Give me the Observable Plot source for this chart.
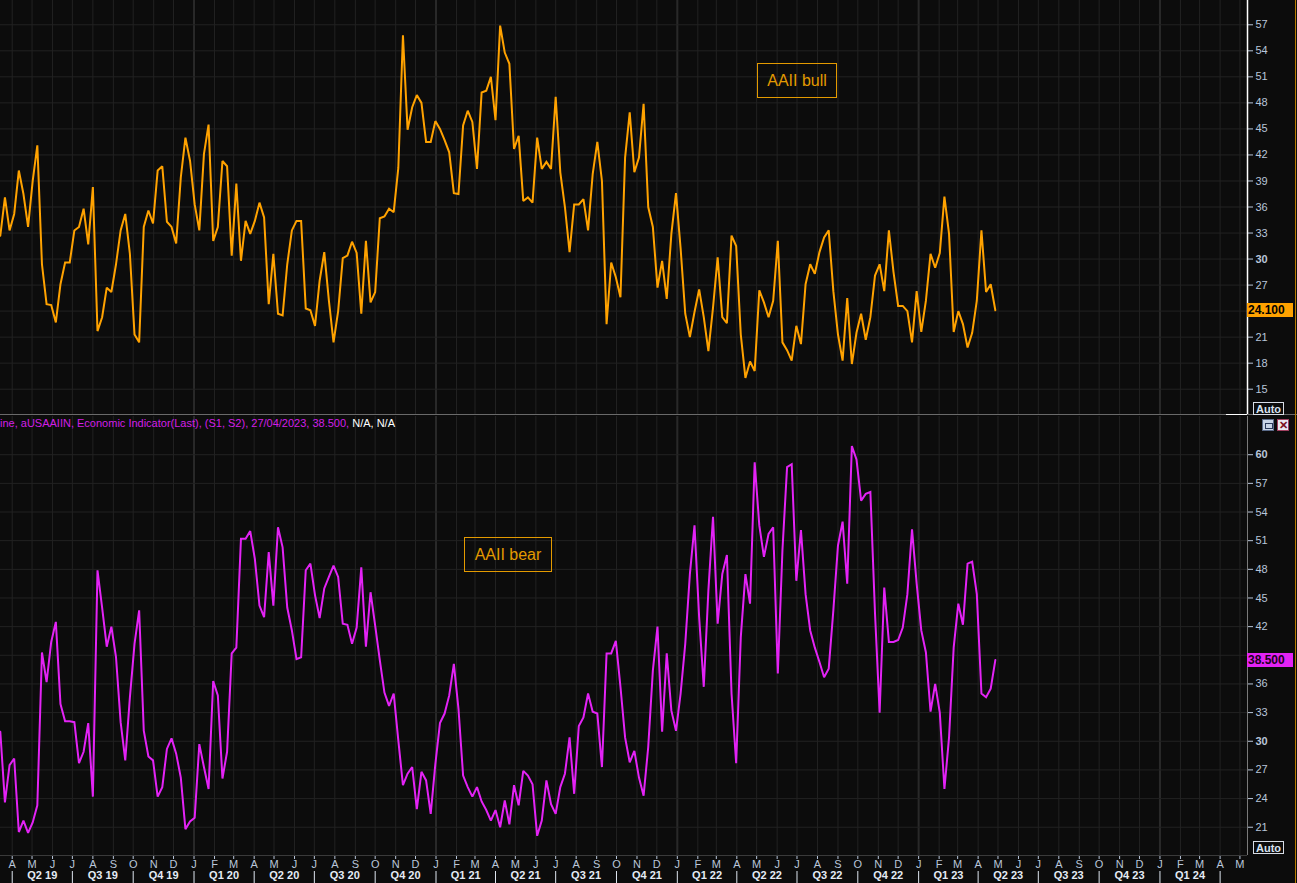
<!DOCTYPE html>
<html><head><meta charset="utf-8">
<script src="https://cdn.jsdelivr.net/npm/d3@7"></script>
<script src="https://cdn.jsdelivr.net/npm/@observablehq/plot@0.6"></script>
<style>
html,body{margin:0;padding:0;background:#0c0c0c;overflow:hidden}
#root{position:relative;width:1297px;height:883px;background:#0c0c0c;font-family:"Liberation Sans",Arial,sans-serif;overflow:hidden}
.abs{position:absolute}
.box{position:absolute;border:1px solid #e39a00;color:#e39a00;font-size:16px;display:flex;align-items:center;justify-content:center;box-sizing:border-box}
.badge{position:absolute;left:1247px;width:46px;height:14px;font:bold 12px "Liberation Sans",Arial,sans-serif;color:#000;line-height:14px;padding-left:1px;box-sizing:border-box}
.auto{position:absolute;left:1253px;width:31px;height:13px;border:1px solid #d8dde6;color:#d8e2f0;font:bold 11px "Liberation Sans",Arial,sans-serif;line-height:12px;text-align:center;box-sizing:border-box}
</style></head><body><div id="root"></div>
<script>
// ---- data: AAII weekly sentiment readings (Thursdays), first reading 14/03/2019, last 27/04/2023
const firstReading = "2019-03-14";
const bull = [32.7,37.1,33.3,35.2,40.2,37.5,33.7,39.0,43.1,29.4,24.8,24.7,22.7,27.1,29.6,29.6,33.3,33.7,35.8,31.7,
38.3,21.7,23.3,26.7,26.2,29.4,33.3,35.2,30.6,21.3,20.4,33.7,35.6,34.1,40.2,40.7,34.3,33.7,31.8,39.4,
44.0,41.3,36.3,33.3,42.1,45.5,32.1,33.7,41.3,40.7,30.4,38.7,29.8,34.4,32.9,34.4,36.5,34.8,24.8,30.6,
23.7,23.5,29.4,33.3,34.4,34.4,24.3,24.1,22.3,27.5,30.8,25.2,20.4,24.0,30.1,30.4,32.0,30.7,23.7,32.1,
25.0,26.2,34.7,34.9,35.8,35.4,40.5,55.8,44.9,47.5,48.9,48.0,43.5,43.5,45.9,45.0,43.7,42.3,37.6,37.5,
45.4,47.1,45.8,40.4,49.2,49.4,51.0,46.0,56.9,53.8,52.5,42.7,44.2,36.7,37.1,36.5,44.0,40.4,41.2,40.4,
48.7,40.0,36.0,30.8,36.3,36.3,36.9,33.3,39.8,43.5,39.0,22.5,29.6,27.9,25.6,41.7,46.9,40.0,41.7,47.9,
36.0,33.7,26.7,29.8,25.4,32.9,37.6,31.2,23.7,21.0,23.9,26.5,23.3,19.4,24.4,30.2,23.3,22.6,32.7,31.5,
21.3,16.3,18.2,17.1,26.4,25.0,23.3,25.2,32.1,20.4,19.5,18.3,22.3,20.2,27.1,29.4,28.3,30.8,32.5,33.3,
26.3,21.3,18.3,25.5,17.9,21.5,23.7,20.7,23.3,28.1,29.4,26.3,33.3,28.5,24.6,24.6,24.0,20.4,26.3,21.6,
25.2,30.6,29.0,30.7,37.2,32.9,21.6,24.0,22.5,19.8,21.5,25.2,33.3,26.2,27.1,24.1];
const bear = [31.0,23.6,27.5,28.2,20.5,21.7,20.4,21.5,23.3,39.3,36.2,40.4,42.5,33.9,32.1,32.1,32.0,27.7,28.9,31.9,
24.2,47.9,44.0,39.9,42.0,38.8,32.0,28.0,34.6,40.2,43.7,31.1,28.4,28.0,24.2,25.2,29.2,30.3,28.7,26.2,
20.8,21.6,22.0,29.7,27.3,25.0,36.3,34.8,26.1,28.9,39.2,39.8,51.2,51.2,52.0,49.1,44.2,43.0,49.8,44.2,
52.4,50.3,44.0,41.6,38.6,38.8,47.9,48.6,45.3,42.9,46.0,47.2,48.4,47.2,42.3,42.2,40.2,41.9,48.2,39.9,
45.6,42.1,38.5,35.1,33.7,35.0,30.1,25.4,26.6,27.3,22.9,26.8,25.9,22.4,27.6,31.9,32.9,34.8,38.1,33.4,
26.4,25.2,24.2,25.2,23.7,22.8,21.7,22.8,21.0,23.8,21.3,25.4,23.3,26.9,26.4,25.5,20.1,21.7,25.9,23.4,
22.4,25.2,26.6,30.4,24.5,31.6,32.5,35.0,33.1,32.9,27.3,39.2,39.2,40.5,35.7,30.4,27.8,29.0,26.2,24.3,
29.4,37.4,42.0,31.0,39.2,33.2,31.1,35.0,40.2,47.5,52.6,43.0,35.7,45.8,53.5,42.3,47.5,49.5,35.0,27.7,
40.9,47.5,44.4,59.2,52.6,49.3,51.7,52.4,37.1,50.0,58.7,59.0,46.8,52.1,45.4,41.6,39.8,38.3,36.7,37.6,
43.7,50.5,53.0,46.5,60.9,59.5,55.2,55.9,56.1,43.4,33.0,46.1,40.4,40.4,40.6,41.9,45.4,52.2,46.5,41.6,
39.3,33.1,36.0,33.0,25.0,30.4,39.8,44.4,42.2,48.6,48.8,45.4,35.0,34.6,35.5,38.5];
const bullTicks = [15,18,21,24,27,30,33,36,39,42,45,48,51,54,57];
const bearTicks = [21,24,27,30,33,36,39,42,45,48,51,54,57,60];
const monthLetters = ["J","F","M","A","M","J","J","A","S","O","N","D"];
const bullLabel = "AAII bull";
const bearLabel = "AAII bear";
const legendText = "ine, aUSAAIIN, Economic Indicator(Last), (S1, S2), 27/04/2023, 38.500, ";
const legendTail = "N/A, N/A";

// ---- table
const start = new Date(firstReading + "T00:00:00Z");
const rows = bull.map((v, i) => ({date: d3.utcDay.offset(start, 7 * i), bull: v, bear: bear[i]}));
const last = rows[rows.length - 1];

const xDomain = [new Date(Date.UTC(2019, 2, 14, 7)), new Date(Date.UTC(2024, 4, 12, 10))];
const months = d3.utcMonth.range(new Date(Date.UTC(2019, 3, 1)), new Date(Date.UTC(2024, 5, 1)));
const jans = months.filter(d => d.getUTCMonth() === 0);
const quarterStarts = months.filter(d => d.getUTCMonth() % 3 === 0);
const quarterLabels = quarterStarts.slice(0, -1).map(d => ({
  mid: new Date((+d + +d3.utcMonth.offset(d, 3)) / 2),
  text: `Q${d.getUTCMonth() / 3 + 1} ${String(d.getUTCFullYear()).slice(2)}`
}));

const W = 1297, MR = 50;
const gridColor = "#222222", janColor = "#292929";
const axisStyle = {background: "transparent", color: "#b9c6da", fontFamily: "'Liberation Sans', Arial, sans-serif", fontSize: "11px", overflow: "visible"};

// value badges cover one tick label in each panel (as in the source chart)
const hiddenTop = 24, hiddenBot = 39;

const root = document.getElementById("root");

// ---- top panel (bull)
const topH = 415;
const topPlot = Plot.plot({
  width: W, height: topH, marginLeft: 0, marginRight: MR, marginTop: 0, marginBottom: 0,
  style: axisStyle,
  x: {type: "utc", domain: xDomain, axis: null},
  y: {domain: [11.97, 59.8], axis: "right", ticks: bullTicks.filter(t => t !== hiddenTop), tickSize: 5, tickPadding: 3, tickFormat: d => String(d), label: null},
  marks: [
    Plot.ruleX(months, {stroke: gridColor}),
    Plot.ruleX(jans, {stroke: janColor, strokeWidth: 2}),
    Plot.ruleY(bullTicks, {stroke: gridColor}),
    Plot.line(rows, {x: "date", y: "bull", stroke: "#ffa200", strokeWidth: 2, strokeLinejoin: "miter", strokeMiterlimit: 2}),
    Plot.ruleX([xDomain[1]], {stroke: "#ffffff", strokeWidth: 1.5})
  ]
});
topPlot.style.position = "absolute"; topPlot.style.left = "0px"; topPlot.style.top = "0px";
root.appendChild(topPlot);

// ---- bottom panel (bear)
const botTop = 416, botH = 467, botMB = 28;
const botPlot = Plot.plot({
  width: W, height: botH, marginLeft: 0, marginRight: MR, marginTop: 0, marginBottom: botMB,
  style: axisStyle,
  x: {type: "utc", domain: xDomain, axis: "bottom", ticks: months, tickFormat: d => monthLetters[d.getUTCMonth()], tickSize: 4, tickPadding: 1, label: null},
  y: {domain: [18.04, 64.0], axis: "right", ticks: bearTicks.filter(t => t !== hiddenBot), tickSize: 5, tickPadding: 3, tickFormat: d => String(d), label: null},
  marks: [
    Plot.ruleX(months, {stroke: gridColor}),
    Plot.ruleX(jans, {stroke: janColor, strokeWidth: 2}),
    Plot.ruleY(bearTicks, {stroke: gridColor}),
    Plot.line(rows, {x: "date", y: "bear", stroke: "#e323f5", strokeWidth: 2, strokeLinejoin: "miter", strokeMiterlimit: 2}),
    Plot.ruleX([xDomain[1]], {stroke: "#7a7a7a", strokeWidth: 1}),
    Plot.ruleX(quarterStarts, {stroke: "#dfe6f0", strokeWidth: 1, insetTop: botH - botMB + 16, insetBottom: -botMB}),
    Plot.text(quarterLabels, {x: "mid", text: "text", frameAnchor: "bottom", dy: 23, fill: "#e4ebf5", fontWeight: "bold", fontSize: 11})
  ]
});
botPlot.style.position = "absolute"; botPlot.style.left = "0px"; botPlot.style.top = botTop + "px";
root.appendChild(botPlot);

// bold 30 / 60
topPlot.querySelectorAll("text").forEach(t => { if (t.textContent === "30") t.setAttribute("font-weight", "bold"); });
botPlot.querySelectorAll("text").forEach(t => { if (t.textContent === "30" || t.textContent === "60") t.setAttribute("font-weight", "bold"); });

// ---- decorations
function div(cls, css, html) { const d = document.createElement("div"); d.className = cls; Object.assign(d.style, css); if (html != null) d.innerHTML = html; root.appendChild(d); return d; }
div("abs", {left: "0px", top: "414px", width: "1297px", height: "1px", background: "#6a6a6a"});
div("abs", {left: "1226px", top: "414px", width: "21px", height: "1px", background: "#ffffff"});
div("abs", {left: "0px", top: (botTop + botH - botMB) + "px", width: "1247px", height: "1px", background: "#3a3a3a"});
div("abs", {left: "1295px", top: "0px", width: "1px", height: "883px", background: "#b77a00"});

// series labels
div("box", {left: "757px", top: "63px", width: "80px", height: "35px"}, bullLabel);
div("box", {left: "464px", top: "537px", width: "88px", height: "35px"}, bearLabel);

// legend row
div("abs", {left: "0px", top: "417px", font: "11px 'Liberation Sans', Arial, sans-serif", color: "#d21fe6", whiteSpace: "nowrap"},
  legendText + `<span style="color:#ffffff">${legendTail}</span>`);

// last-value badges placed through the plots' own y scales
const yTop = topPlot.scale("y"), yBot = botPlot.scale("y");
div("badge", {top: (yTop.apply(last.bull) - 7) + "px", background: "#ffa200"}, last.bull.toFixed(3));
div("badge", {top: (botTop + yBot.apply(last.bear) - 7) + "px", background: "#e323f5", color: "#1a0020"}, last.bear.toFixed(3));

// Auto boxes
div("auto", {top: "402px"}, "Auto");
div("auto", {top: "841px"}, "Auto");

// panel icons
div("abs", {left: "1262px", top: "419px", width: "12px", height: "12px", background: "#c8d4e6", border: "1px solid #5a6a88", boxSizing: "border-box"},
  '<div style="position:absolute;left:2px;top:3px;width:6px;height:4px;border:1px solid #2a3a5a"></div>');
div("abs", {left: "1277px", top: "419px", width: "12px", height: "12px", background: "#e8e8f0", border: "1px solid #a04060", boxSizing: "border-box", color: "#7a1020", font: "bold 11px 'Liberation Sans',Arial", lineHeight: "10px", textAlign: "center"}, "✕");
</script></body></html>
